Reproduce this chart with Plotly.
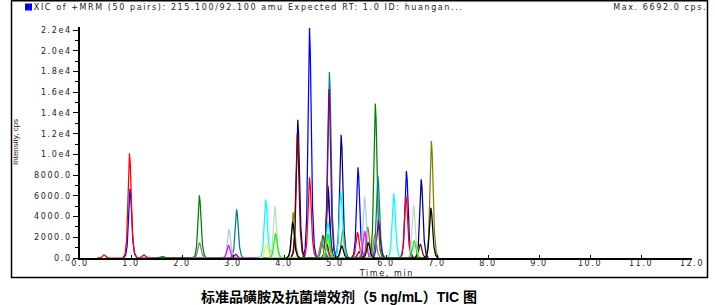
import plotly.graph_objects as go

# ---------------- data ----------------
X_TICKS = [0, 1, 2, 3, 4, 5, 6, 7, 8, 9, 10, 11, 12]
X_TICK_LABELS = ["0.0", "1.0", "2.0", "3.0", "4.0", "5.0", "6.0", "7.0", "8.0", "9.0", "10.0", "11.0", "12.0"]
Y_TICKS = [0, 2000, 4000, 6000, 8000, 10000, 12000, 14000, 16000, 18000, 20000, 22000]
Y_TICK_LABELS = ["0.0", "2000.0", "4000.0", "6000.0", "8000.0", "1.0e4", "1.2e4",
                 "1.4e4", "1.6e4", "1.8e4", "2.0e4", "2.2e4"]

# peak shape (offset in min, fraction of apex height) read from the narrow peaks
PEAK_DT = [-0.13, -0.085, -0.055, -0.033, -0.015, 0.0, 0.015, 0.035, 0.06, 0.095, 0.14]
PEAK_FRAC = [0.0, 0.04, 0.18, 0.5, 0.88, 1.0, 0.9, 0.55, 0.22, 0.05, 0.0]

# retention time (min) and apex intensity (cps) per MRM transition colour
blue_rt = [0.98, 4.50, 4.86, 5.45, 6.40]
blue_h = [6692, 22200, 6200, 8750, 8400]
red_rt = [0.47, 0.97, 1.25, 4.50, 4.84, 5.44, 6.39]
red_h = [300, 10100, 300, 7800, 1400, 2500, 6050]
navy_rt = [4.27, 4.86, 5.12, 6.69]
navy_h = [13350, 7000, 11900, 7600]
maroon_rt = [4.26, 4.84, 5.47, 6.67]
maroon_h = [12000, 1300, 600, 1350]
green_rt = [1.62, 2.34, 4.76, 5.79]
green_h = [150, 6050, 2200, 14900]
teal_rt = [3.07, 4.89, 5.84]
teal_h = [4700, 17950, 7950]
purple_rt = [3.05, 4.88, 5.85]
purple_h = [350, 16300, 3650]
olive_rt = [4.18, 4.73, 5.15, 5.64, 6.89]
olive_h = [4400, 1600, 2700, 3000, 11300]
gray_rt = [2.34, 4.74, 5.78]
gray_h = [1500, 1700, 2300]
skyblue_rt = [2.92, 5.58]
skyblue_h = [2800, 5900]
magenta_rt = [2.91, 4.83, 5.58]
magenta_h = [1250, 1000, 2600]
cyan_rt = [3.64, 4.86, 5.11, 6.15]
cyan_h = [5650, 3500, 6500, 6250]
yellow_rt = [3.65, 4.85]
yellow_h = [1400, 1900]
mint_rt = [3.82, 6.54]
mint_h = [5000, 5100]
lime_rt = [3.83, 4.86, 6.55]
lime_h = [2400, 2300, 1700]
black_rt = [4.17, 5.13, 5.65, 6.88]
black_h = [3500, 1200, 1500, 4850]

SERIES = [
    ("#0000FF", blue_rt, blue_h),
    ("#FF0000", red_rt, red_h),
    ("#000080", navy_rt, navy_h),
    ("#800000", maroon_rt, maroon_h),
    ("#008000", green_rt, green_h),
    ("#008080", teal_rt, teal_h),
    ("#800080", purple_rt, purple_h),
    ("#808000", olive_rt, olive_h),
    ("#808080", gray_rt, gray_h),
    ("#A6CAF0", skyblue_rt, skyblue_h),
    ("#FF00FF", magenta_rt, magenta_h),
    ("#00FFFF", cyan_rt, cyan_h),
    ("#FFFF00", yellow_rt, yellow_h),
    ("#C0DCC0", mint_rt, mint_h),
    ("#00FF00", lime_rt, lime_h),
    ("#000000", black_rt, black_h),
]

THRESHOLD = 9000

HEADER = "XIC of +MRM (50 pairs): 215.100/92.100 amu Expected RT: 1.0 ID: huangan..."
MAX_TEXT = "Max. 6692.0 cps."
X_TITLE = "Time, min"
Y_TITLE = "Intensity, cps"
CAPTION = "标准品磺胺及抗菌增效剂（5 ng/mL）TIC 图"

# ---------------- figure ----------------
W, H = 715, 305
ML, MR, MT, MB = 80, 23, 27, 47
PW, PH = W - ML - MR, H - MT - MB


def px(x):
    return (x - ML) / PW


def py(y):
    return (H - MB - y) / PH


def build(rts, hs):
    xs, ys = [], []
    for rt, h in sorted(zip(rts, hs)):
        for dt, f in zip(PEAK_DT, PEAK_FRAC):
            xs.append(rt + dt)
            ys.append(h * f)
    return xs, ys


fig = go.Figure()
for color, rts, hs in SERIES:
    xs, ys = build(rts, hs)
    fig.add_trace(go.Scatter(x=xs, y=ys, mode="lines",
                             line=dict(color=color, width=1.25),
                             hoverinfo="skip", showlegend=False))

fig.add_trace(go.Scatter(x=[-0.04], y=[THRESHOLD], mode="markers",
                         marker=dict(symbol="triangle-right", size=6, color="#1010A0"),
                         cliponaxis=False, hoverinfo="skip", showlegend=False))

TICKFONT = dict(family="DejaVu Sans", size=8, color="#222222")

fig.update_layout(
    width=W, height=H,
    margin=dict(l=ML, r=MR, t=MT, b=MB),
    paper_bgcolor="white", plot_bgcolor="white",
    showlegend=False,
    xaxis=dict(range=[0, 12], tickmode="array", tickvals=X_TICKS, ticktext=X_TICK_LABELS,
               showline=True, linecolor="black", linewidth=1.5, mirror=False,
               ticks="inside", ticklen=3, tickcolor="black", tickwidth=1,
               ticklabelstandoff=-3,
               showgrid=False, zeroline=False, tickfont=TICKFONT, fixedrange=True),
    yaxis=dict(range=[0, 22300], tickmode="array", tickvals=Y_TICKS, ticktext=Y_TICK_LABELS,
               showline=True, linecolor="black", linewidth=1.5,
               ticks="outside", ticklen=5, tickcolor="black", tickwidth=1,
               minor=dict(ticks="outside", ticklen=3, dtick=1000, tick0=0,
                          tickcolor="black", tickwidth=1),
               showgrid=False, zeroline=False, tickfont=TICKFONT, fixedrange=True),
)

fig.add_shape(type="rect", xref="paper", yref="paper",
              x0=px(11.5), x1=px(707.5), y0=py(277.5), y1=py(0.8),
              line=dict(color="black", width=1.5), fillcolor="rgba(0,0,0,0)")
fig.add_shape(type="rect", xref="paper", yref="paper",
              x0=px(25), x1=px(32), y0=py(10.5), y1=py(3.5),
              line=dict(color="#0000FF", width=0), fillcolor="#0000FF")

fig.add_annotation(text=HEADER, xref="paper", yref="paper", x=px(248), y=py(7.5),
                   xanchor="center", yanchor="middle", showarrow=False,
                   font=dict(family="DejaVu Sans", size=8, color="#222222"))
fig.add_annotation(text=MAX_TEXT, xref="paper", yref="paper", x=px(660), y=py(7.5),
                   xanchor="center", yanchor="middle", showarrow=False,
                   font=dict(family="DejaVu Sans", size=8, color="#222222"))
fig.add_annotation(text=X_TITLE, xref="paper", yref="paper", x=px(386), y=py(273.5),
                   xanchor="center", yanchor="middle", showarrow=False,
                   font=dict(family="DejaVu Sans", size=8, color="#222222"))
fig.add_annotation(text=Y_TITLE, xref="paper", yref="paper", x=px(15), y=py(142),
                   xanchor="center", yanchor="middle", showarrow=False, textangle=-90,
                   font=dict(family="Liberation Sans", size=8, color="#222222"))
fig.add_annotation(text=CAPTION, xref="paper", yref="paper", x=px(339), y=py(297),
                   xanchor="center", yanchor="middle", showarrow=False,
                   font=dict(family="Liberation Sans, Noto Sans CJK SC", size=14,
                             color="black", weight="bold"))

POST = """
var gd = document.getElementById('{plot_id}');
function spaceText(){
  gd.querySelectorAll('.xtick text, .ytick text').forEach(function(t){ t.style.letterSpacing='1.6px'; });
  gd.querySelectorAll('.annotation').forEach(function(a){
    var i = a.getAttribute('data-index');
    if (i === '0' || i === '1' || i === '2') {
      a.querySelectorAll('text').forEach(function(t){ t.style.letterSpacing='1.6px'; });
    }
  });
}
spaceText();
setTimeout(spaceText, 0);
if (gd.on) { gd.on('plotly_afterplot', spaceText); }
"""

fig.write_html("out.html", post_script=POST)
